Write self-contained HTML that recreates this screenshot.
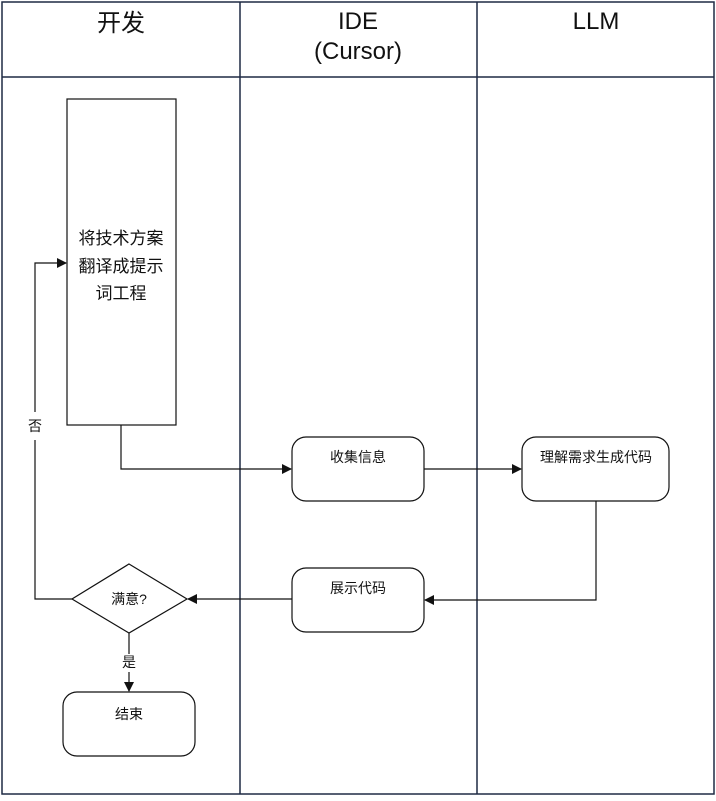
<!DOCTYPE html>
<html><head><meta charset="utf-8"><style>
html,body{margin:0;padding:0;background:#fff;}
</style></head><body>
<svg width="716" height="796" viewBox="0 0 716 796" xmlns="http://www.w3.org/2000/svg" font-family="Liberation Sans, Noto Sans CJK SC, sans-serif">
<defs><marker id="a" markerWidth="10" markerHeight="10" refX="9" refY="5" orient="auto" markerUnits="userSpaceOnUse"><path d="M0,0 L10,5 L0,10 z" fill="#111"/></marker></defs>
<g fill="none" stroke="#1f2a44" stroke-width="1.5">
<rect x="2" y="2" width="712" height="792"/>
<line x1="240" y1="2" x2="240" y2="794"/>
<line x1="477" y1="2" x2="477" y2="794"/>
<line x1="2" y1="77" x2="714" y2="77"/>
</g>
<g font-size="24" fill="#111" text-anchor="middle">
<text x="121" y="31">开发</text>
<text x="358" y="29">IDE</text>
<text x="358" y="59">(Cursor)</text>
<text x="596" y="29">LLM</text>
</g>
<g fill="#fff" stroke="#111" stroke-width="1.2">
<rect x="67" y="99" width="109" height="326"/>
<rect x="292" y="437" width="132" height="64" rx="14"/>
<rect x="522" y="437" width="147" height="64" rx="14"/>
<rect x="292" y="568" width="132" height="64" rx="14"/>
<polygon points="129,564 187,599 129,633 72,599"/>
<rect x="63" y="692" width="132" height="64" rx="14"/>
</g>
<g fill="none" stroke="#111" stroke-width="1.2">
<polyline points="121,425 121,469 291,469" marker-end="url(#a)"/>
<line x1="424" y1="469" x2="521" y2="469" marker-end="url(#a)"/>
<polyline points="596,501 596,600 425,600" marker-end="url(#a)"/>
<line x1="292" y1="599" x2="188" y2="599" marker-end="url(#a)"/>
<polyline points="72,599 35,599 35,440"/>
<polyline points="35,412 35,263 66,263" marker-end="url(#a)"/>
<line x1="129" y1="633" x2="129" y2="654"/>
<line x1="129" y1="672" x2="129" y2="691" marker-end="url(#a)"/>
</g>
<g font-size="14" fill="#111" text-anchor="middle">
<text x="121" y="244" font-size="17">将技术方案</text>
<text x="121" y="272" font-size="17">翻译成提示</text>
<text x="121" y="299" font-size="17">词工程</text>
<text x="358" y="462">收集信息</text>
<text x="596" y="462">理解需求生成代码</text>
<text x="358" y="593">展示代码</text>
<text x="129" y="604">满意?</text>
<text x="129" y="719">结束</text>
<text x="35" y="431">否</text>
<text x="129" y="667">是</text>
</g>
</svg>
</body></html>
